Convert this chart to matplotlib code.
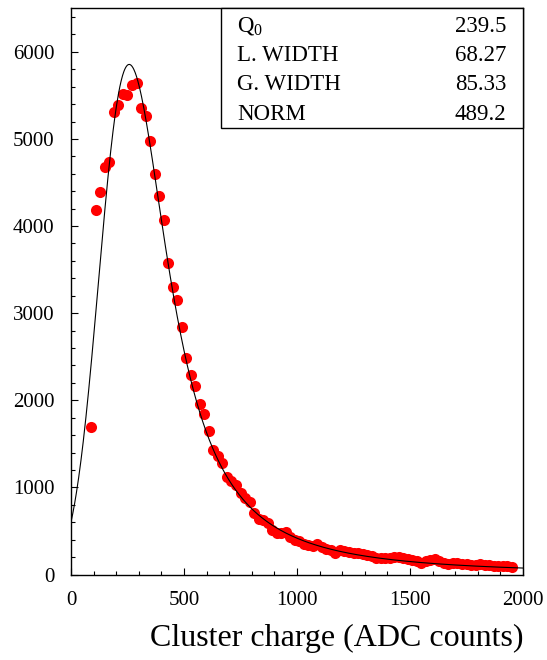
import numpy as np
import matplotlib
matplotlib.use("Agg")
import matplotlib.pyplot as plt
from matplotlib.ticker import MultipleLocator
from matplotlib.patches import Rectangle

plt.rcParams['font.family'] = ['Liberation Serif', 'DejaVu Serif']
plt.rcParams['mathtext.fontset'] = 'custom'
plt.rcParams['mathtext.rm'] = 'Liberation Serif'

# cluster charge histogram (bin centres, counts)
charge = np.arange(90, 1951, 20)
counts = [1690, 4185, 4390, 4675, 4735, 5315, 5390, 5520, 5500, 5625,
          5640, 5355, 5260, 4975, 4600, 4340, 4065, 3580, 3305, 3150,
          2840, 2480, 2295, 2165, 1960, 1845, 1650, 1425, 1365, 1280,
          1115, 1070, 1025, 930, 880, 835, 710, 635, 625, 590,
          510, 475, 480, 490, 435, 400, 385, 350, 340, 325,
          350, 315, 290, 280, 245, 280, 265, 262, 250, 243,
          230, 224, 210, 190, 186, 190, 186, 200, 204, 185,
          175, 165, 150, 130, 150, 170, 175, 150, 130, 125,
          130, 128, 125, 115, 110, 105, 115, 110, 105, 100,
          98, 95, 92, 85]

# landau (x) gauss fit result
par_names = ["Q$_0$", "L. WIDTH", "G. WIDTH", "NORM"]
par_text = ["239.5", "68.27", "85.33", "489.2"]
q0, lwidth, gwidth, norm = [float(v) for v in par_text]
k_norm = 5770.0   # counts per NORM unit


def landau(lam):
    # Landau density, phi(l) = 1/pi * int exp(-t ln t - l t) sin(pi t) dt
    t = np.concatenate([np.logspace(-7, 0, 3000, endpoint=False),
                        np.linspace(1, 60, 30000)])
    out = np.zeros_like(lam)
    idx = np.where(lam > -3.8)[0]
    for chunk in np.array_split(idx, max(1, len(idx) // 80)):
        l = lam[chunk][:, None]
        f = np.exp(-t * np.log(t) - l * t) * np.sin(np.pi * t)
        out[chunk] = np.trapezoid(f, t, axis=1) / np.pi
    return out


# Q0 is the landau location parameter, convolved with a gaussian of G. WIDTH
xp = np.arange(-600, 2601, 2.0)
fl = landau((xp - q0) / lwidth) / lwidth
xf = np.linspace(0, 2000, 1001)
g = np.exp(-0.5 * ((xf[:, None] - xp[None, :]) / gwidth) ** 2) / (np.sqrt(2 * np.pi) * gwidth)
pdf = g @ fl * 2.0
yfit = norm * k_norm * pdf

fig = plt.figure(figsize=(5.47, 6.60), dpi=100)
ax = fig.add_axes([71 / 547, 1 - 574.5 / 660, 452 / 547, 566.2 / 660])

ax.plot(charge, counts, 'o', color='red', ms=8, mec='none', zorder=2)
ax.plot(xf, yfit, color='black', lw=0.8, zorder=3)

ax.set_xlim(0, 2000)
ax.set_ylim(0, 6500)
ax.xaxis.set_major_locator(MultipleLocator(500))
ax.xaxis.set_minor_locator(MultipleLocator(100))
ax.yaxis.set_major_locator(MultipleLocator(1000))
ax.yaxis.set_minor_locator(MultipleLocator(200))
ax.tick_params(which='both', direction='in', top=False, right=False, width=0.8, labelsize=15)
ax.tick_params(which='major', length=5)
ax.tick_params(which='minor', length=3)
ax.tick_params(axis='y', pad=12)
ax.tick_params(axis='x', pad=12)
for s in ax.spines.values():
    s.set_linewidth(1.0)

fig.text(523 / 547, 1 - 646 / 660, "Cluster charge (ADC counts)", fontsize=23,
         ha='right', va='baseline')

# fit parameter box
box = Rectangle((221 / 547, 1 - 128 / 660), 302 / 547, 120 / 660, transform=fig.transFigure,
                facecolor='white', edgecolor='black', lw=1.0, zorder=5)
fig.patches.append(box)
for i, (name, val) in enumerate(zip(par_names, par_text)):
    yb = 1 - (31.7 + 29.4 * i) / 660
    fig.text(237 / 547, yb, name, fontsize=16.5, va='baseline', ha='left', zorder=6)
    fig.text(506 / 547, yb, val, fontsize=16.5, va='baseline', ha='right', zorder=6)

fig.savefig("out.png", dpi=100)
